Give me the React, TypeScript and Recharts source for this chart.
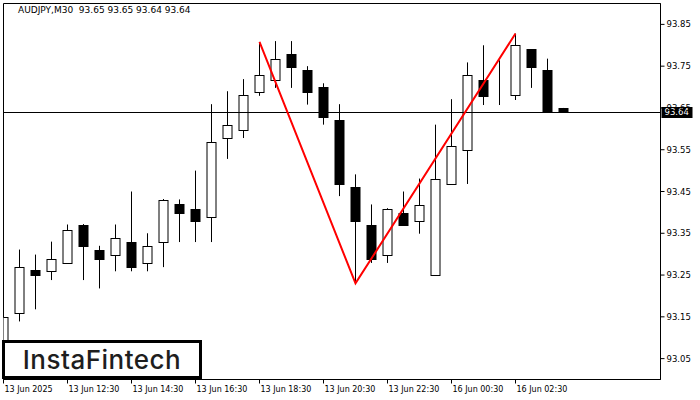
import React from 'react';
import {
  ComposedChart,
  Bar,
  Line,
  XAxis,
  YAxis,
  ReferenceLine,
  ReferenceArea
} from 'recharts';

// AUDJPY M30 candles
const timeLabels = [
  '13 Jun 2025', '13 Jun 12:30', '13 Jun 14:30', '13 Jun 16:30', '13 Jun 18:30',
  '13 Jun 20:30', '13 Jun 22:30', '16 Jun 00:30', '16 Jun 02:30'
];
const timeTicks = [0, 4, 8, 12, 16, 20, 24, 28, 32];

const opens = [
  93.09, 93.159, 93.261, 93.26, 93.279, 93.371, 93.31, 93.298, 93.33, 93.279,
  93.33, 93.419, 93.408, 93.39, 93.579, 93.598, 93.689, 93.718, 93.779, 93.74,
  93.7, 93.62, 93.46, 93.371, 93.298, 93.399, 93.38, 93.25, 93.469, 93.55,
  93.718, 93.67, 93.68, 93.79, 93.74, 93.65
];
const highs = [
  93.23, 93.311, 93.299, 93.33, 93.371, 93.372, 93.32, 93.371, 93.45, 93.35,
  93.432, 93.431, 93.5, 93.659, 93.69, 93.719, 93.808, 93.81, 93.81, 93.75,
  93.709, 93.659, 93.491, 93.419, 93.41, 93.45, 93.481, 93.61, 93.671, 93.759,
  93.8, 93.764, 93.828, 93.791, 93.768, 93.65
];
const lows = [
  93.06, 93.139, 93.168, 93.238, 93.278, 93.238, 93.218, 93.259, 93.259, 93.259,
  93.269, 93.329, 93.329, 93.329, 93.528, 93.578, 93.679, 93.698, 93.698, 93.658,
  93.61, 93.439, 93.23, 93.279, 93.279, 93.369, 93.349, 93.249, 93.468, 93.468,
  93.657, 93.657, 93.669, 93.698, 93.639, 93.64
];
const closes = [
  93.15, 93.27, 93.25, 93.289, 93.358, 93.319, 93.288, 93.339, 93.269, 93.32,
  93.43, 93.398, 93.379, 93.569, 93.61, 93.68, 93.73, 93.768, 93.748, 93.688,
  93.628, 93.468, 93.379, 93.288, 93.409, 93.37, 93.418, 93.481, 93.56, 93.73,
  93.679, 93.67, 93.8, 93.748, 93.64, 93.64
];

// double top pattern drawn in red
const patternIndex = [16, 22, 32];
const patternPrice = [93.808, 93.23, 93.828];

const priceTicks = [93.05, 93.15, 93.25, 93.35, 93.45, 93.55, 93.65, 93.75, 93.85];
const lastPrice = 93.64;
const title = 'AUDJPY,M30  93.65 93.65 93.64 93.64';

const data = opens.map((o, i) => {
  const p = patternIndex.indexOf(i);
  return {
    i,
    o,
    h: highs[i],
    l: lows[i],
    c: closes[i],
    range: [lows[i], highs[i]],
    pattern: p >= 0 ? patternPrice[p] : null
  };
});

const FONT = '"DejaVu Sans", Verdana, sans-serif';

const Candle = (props: any) => {
  const { x, y, width, height, payload } = props;
  const { o, h, l, c } = payload;
  const cx = Math.floor(x + width / 2) + 0.5;
  const k = h - l > 0 ? height / (h - l) : 0;
  const top = Math.round(y + (h - Math.max(o, c)) * k) + 0.5;
  const bot = Math.round(y + (h - Math.min(o, c)) * k) + 0.5;
  const up = c >= o;
  return (
    <g>
      <line x1={cx} x2={cx} y1={y} y2={y + height} stroke="#000" strokeWidth={1} />
      <rect
        x={cx - 4.5}
        y={top}
        width={9}
        height={Math.max(0, bot - top)}
        fill={up ? '#fff' : '#000'}
        stroke="#000"
        strokeWidth={1}
      />
    </g>
  );
};

const TimeTick = (props: any) => {
  const { x, y, payload } = props;
  const label = timeLabels[timeTicks.indexOf(payload.value)];
  return (
    <text x={x + 1} y={y + 6} textAnchor="start" fontSize={8} fontFamily={FONT} fill="#000">
      {label}
    </text>
  );
};

const PriceTag = (props: any) => {
  const { viewBox } = props;
  const x = viewBox.x + viewBox.width + 1;
  const y = Math.floor(viewBox.y) + 0.5;
  return (
    <g>
      <rect x={x} y={y - 5.5} width={31} height={11} fill="#000" />
      <text x={x + 3} y={y} dy="0.35em" fill="#fff" fontSize={8.5} fontFamily={FONT}>
        {lastPrice.toFixed(2)}
      </text>
    </g>
  );
};

// keep the 1px price line on a whole pixel row
const CrispLine = (props: any) => {
  const { x1, x2, y1 } = props;
  const yy = Math.floor(y1) + 0.5;
  return <line x1={x1} x2={x2} y1={yy} y2={yy} stroke="#000" strokeWidth={1} />;
};

const X_MAX = 657 / 16;

export default function App() {
  return (
    <div style={{ position: 'absolute', left: 0, top: 0, width: 700, height: 400, background: '#fff' }}>
      <ComposedChart
        width={700}
        height={400}
        data={data}
        margin={{ top: 3.5, left: 3.5, right: 0, bottom: 0 }}
        style={{ fontFamily: FONT }}
      >
        <XAxis
          dataKey="i"
          type="number"
          domain={[0, X_MAX]}
          allowDataOverflow
          ticks={timeTicks}
          tick={<TimeTick />}
          tickSize={4}
          tickMargin={2}
          height={20.5}
          stroke="#000"
          interval={0}
        />
        <YAxis
          orientation="right"
          domain={[93.0, 93.9]}
          allowDataOverflow
          ticks={priceTicks}
          tickFormatter={(v: number) => v.toFixed(2)}
          tick={{ fontSize: 8.5, fill: '#000', fontFamily: FONT }}
          tickSize={4}
          tickMargin={2}
          width={39.5}
          stroke="#000"
          interval={0}
        />
        <ReferenceArea x1={0} x2={X_MAX} y1={93.0} y2={93.9} fill="none" stroke="#000" strokeWidth={1} />
        <Bar dataKey="range" barSize={10} shape={<Candle />} isAnimationActive={false} />
        <ReferenceLine
          y={lastPrice}
          stroke="#000"
          strokeWidth={1}
          shape={(p: any) => <CrispLine {...p} />}
          label={<PriceTag />}
        />
        <Line
          dataKey="pattern"
          stroke="#ff0000"
          strokeWidth={2}
          dot={false}
          connectNulls
          isAnimationActive={false}
        />
      </ComposedChart>
      <div
        style={{
          position: 'absolute',
          left: 18,
          top: 6,
          fontFamily: FONT,
          fontSize: 9,
          lineHeight: '9px',
          whiteSpace: 'pre',
          color: '#000'
        }}
      >
        {title}
      </div>
      <div
        style={{
          position: 'absolute',
          left: 2,
          top: 340,
          width: 200,
          height: 39,
          boxSizing: 'border-box',
          border: '3px solid #000',
          background: '#fff',
          display: 'flex',
          alignItems: 'center',
          justifyContent: 'center',
          fontFamily: 'Inter, "Noto Sans", sans-serif',
          fontWeight: 500,
          fontSize: 26,
          letterSpacing: 0.5,
          color: '#1e1e1e'
        }}
      >
        InstaFintech
      </div>
    </div>
  );
}
